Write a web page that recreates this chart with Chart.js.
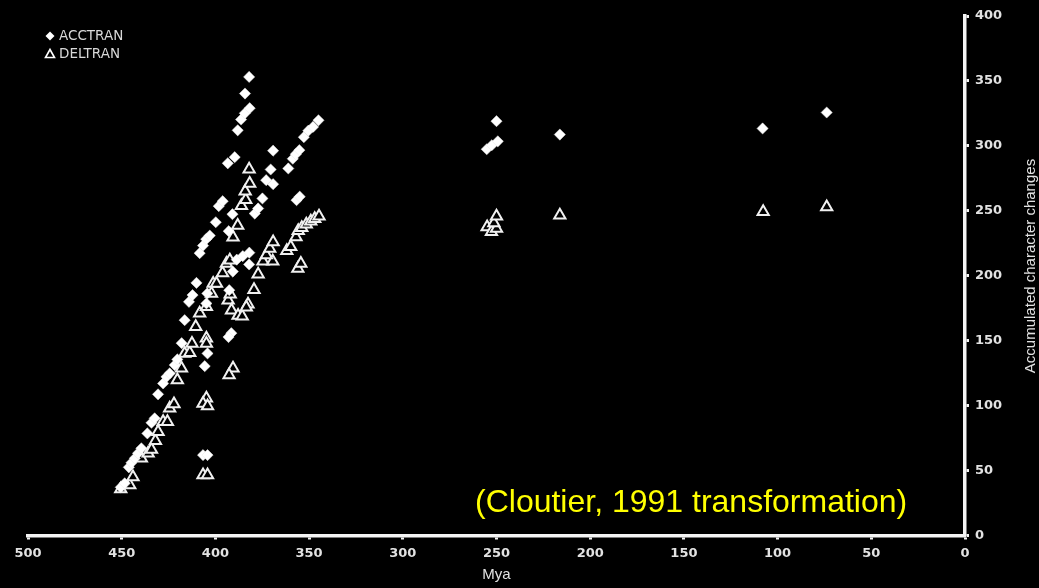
<!DOCTYPE html>
<html>
<head>
<meta charset="utf-8">
<script src="https://cdn.jsdelivr.net/npm/chart.js@4"></script>
<style>
  html, body { margin: 0; padding: 0; background: #000; }
  #wrap { width: 1039px; height: 588px; }
</style>
</head>
<body>
<div id="wrap"><canvas id="chart" width="1039" height="588"></canvas></div>
<script>
// ACCTRAN points (Mya, accumulated changes)
const accMya = [450.5, 448.4, 446.2, 444.8, 443.0, 441.3, 439.5, 436.3, 434.1, 432.4,
  430.6, 427.9, 426.1, 424.4, 421.7, 420.3, 418.0, 416.4, 414.1, 412.2,
  410.1, 408.4, 406.6, 404.9, 403.0, 399.8, 398.2, 396.1, 392.9, 390.9,
  393.4, 389.7, 388.1, 386.3, 384.3, 381.7, 384.2, 382.0, 379.0, 377.2,
  374.9, 372.9, 370.5, 369.2, 369.2, 361.1, 358.7, 357.1, 355.2, 356.7,
  355.0, 352.8, 350.4, 347.9, 345.0, 388.6, 385.4, 381.9, 382.0, 390.7,
  392.6, 404.3, 404.8, 391.5, 393.0, 404.2, 405.7, 406.6, 404.2,
  255.2, 252.5, 249.3, 250.0, 216.2, 108.0, 73.8];
const accVal = [37.1, 40.2, 52.5, 56.0, 59.4, 63.3, 67.1, 78.6, 86.8, 90.2,
  108.7, 117.1, 122.2, 124.8, 131.2, 135.6, 148.1, 165.8, 179.9, 185.1,
  194.5, 217.4, 223.2, 228.2, 230.9, 241.2, 253.6, 257.4, 234.3, 247.4,
  286.6, 291.3, 312.0, 320.3, 325.1, 329.0, 340.3, 353.1, 247.9, 251.8,
  259.5, 273.6, 281.8, 270.5, 296.3, 282.6, 290.1, 293.6, 296.7, 258.2,
  260.9, 306.7, 311.7, 314.6, 319.7, 212.4, 215.1, 217.8, 208.7, 203.2,
  188.9, 186.4, 178.7, 155.8, 152.8, 140.2, 130.4, 61.9, 61.9,
  297.4, 300.5, 303.5, 319.0, 308.7, 313.4, 325.7];

// DELTRAN points
const delMya = [450.5, 445.7, 444.0, 439.5, 435.9, 434.1, 432.0, 430.6, 427.9, 425.6,
  424.4, 422.1, 420.3, 418.1, 416.4, 413.7, 412.5, 410.5, 408.4, 404.8,
  402.1, 401.2, 399.4, 396.2, 394.1, 392.3, 390.6, 388.1, 386.1, 383.8,
  384.1, 381.7, 382.0, 393.2, 392.1, 391.4, 387.9, 385.7, 382.6, 383.5,
  379.4, 377.2, 374.6, 369.4, 372.8, 371.0, 369.2, 404.8, 404.8, 390.6,
  392.7, 404.8, 406.6, 404.2, 406.6, 404.2, 361.9, 359.8, 356.0, 354.4,
  357.0, 355.8, 353.9, 351.5, 349.1, 347.0, 344.7,
  255.0, 252.7, 250.0, 251.4, 250.0, 216.2, 107.7, 73.8];
const delVal = [35.8, 38.9, 45.0, 59.4, 63.3, 66.3, 73.0, 79.9, 87.6, 87.6,
  97.9, 101.2, 119.7, 128.7, 140.2, 140.7, 147.9, 160.7, 171.2, 176.1,
  186.4, 194.1, 194.1, 202.2, 209.5, 212.0, 229.7, 238.6, 253.9, 258.6,
  265.1, 271.0, 282.0, 181.2, 185.8, 173.5, 169.3, 168.9, 178.1, 175.8,
  189.2, 201.2, 211.2, 211.2, 215.9, 221.0, 225.9, 151.8, 147.9, 128.7,
  123.5, 105.6, 101.7, 99.7, 46.6, 46.6, 219.3, 222.4, 205.6, 209.5,
  229.9, 234.7, 237.0, 239.7, 242.0, 243.9, 245.9,
  237.6, 233.8, 236.4, 240.7, 245.9, 246.6, 249.2, 253.0];

const xTicks = [500, 450, 400, 350, 300, 250, 200, 150, 100, 50, 0];
const yTicks = [0, 50, 100, 150, 200, 250, 300, 350, 400];
const noteText = '(Cloutier, 1991 transformation)';
const yTitle = 'Accumulated character changes';

const axisColor = '#f4f4f4';
const labelColor = '#e2e2e2';

function toPoints(xs, ys) {
    return xs.map((x, i) => ({ x: x, y: ys[i] }));
}

// black background, legend, rotated y title, yellow note
const extras = {
    id: 'extras',
    beforeDraw(chart) {
        const ctx = chart.ctx;
        ctx.save();
        ctx.fillStyle = '#000';
        ctx.fillRect(0, 0, chart.width, chart.height);
        ctx.restore();
    },
    afterDraw(chart) {
        const ctx = chart.ctx;
        ctx.save();

        // legend
        ctx.fillStyle = '#fff';
        ctx.beginPath();
        ctx.moveTo(50, 31.5); ctx.lineTo(54.5, 36); ctx.lineTo(50, 40.5); ctx.lineTo(45.5, 36);
        ctx.closePath();
        ctx.fill();
        ctx.strokeStyle = '#fff';
        ctx.lineWidth = 1.6;
        ctx.beginPath();
        ctx.moveTo(50, 49.5); ctx.lineTo(54.5, 57.5); ctx.lineTo(45.5, 57.5);
        ctx.closePath();
        ctx.stroke();
        ctx.fillStyle = '#d8d8d8';
        ctx.font = '13.5px "DejaVu Sans"';
        ctx.textBaseline = 'middle';
        ctx.textAlign = 'left';
        ctx.fillText('ACCTRAN', 59, 36.5);
        ctx.fillText('DELTRAN', 59, 54.5);

        // y title, reading bottom to top
        ctx.translate(1031, 266);
        ctx.rotate(-Math.PI / 2);
        ctx.textAlign = 'center';
        ctx.fillStyle = labelColor;
        ctx.font = '15px "Liberation Sans"';
        ctx.fillText(yTitle, 0, 0);
        ctx.setTransform(1, 0, 0, 1, 0, 0);

        // note
        ctx.fillStyle = '#ffff00';
        ctx.font = '32px "Liberation Sans"';
        ctx.textAlign = 'left';
        ctx.textBaseline = 'middle';
        ctx.fillText(noteText, 475, 503);
        ctx.restore();
    }
};

const tickFont = { family: 'DejaVu Sans', weight: 'bold', size: 13 };

new Chart(document.getElementById('chart'), {
    type: 'scatter',
    data: {
        datasets: [
            {
                label: 'ACCTRAN',
                data: toPoints(accMya, accVal),
                pointStyle: 'rectRot',
                pointRadius: 5.6,
                pointHoverRadius: 5.6,
                backgroundColor: '#ffffff',
                borderColor: '#e8e8e8',
                borderWidth: 0.5
            },
            {
                label: 'DELTRAN',
                data: toPoints(delMya, delVal),
                pointStyle: 'triangle',
                pointRadius: 6.5,
                pointHoverRadius: 6.5,
                backgroundColor: '#000000',
                borderColor: '#f0f0f0',
                borderWidth: 2
            }
        ]
    },
    options: {
        responsive: false,
        animation: false,
        layout: { padding: { left: 28, top: 16, right: 0, bottom: 0 }, autoPadding: false },
        plugins: {
            legend: { display: false },
            tooltip: { enabled: false }
        },
        scales: {
            x: {
                type: 'linear',
                reverse: true,
                min: 0,
                max: 500,
                afterBuildTicks: s => { s.ticks = xTicks.map(v => ({ value: v })); },
                ticks: { color: labelColor, font: tickFont, padding: 6, maxRotation: 0 },
                grid: { drawOnChartArea: false, drawTicks: true, tickLength: 4, tickWidth: 3, tickColor: axisColor },
                border: { display: true, color: axisColor, width: 3.5 },
                title: {
                    display: true,
                    text: 'Mya',
                    color: labelColor,
                    font: { family: 'Liberation Sans', size: 15 },
                    padding: { top: 0, bottom: 4 }
                },
                afterFit: s => { s.height = 52.5; }
            },
            y: {
                position: 'right',
                min: 0,
                max: 400,
                afterBuildTicks: s => { s.ticks = yTicks.map(v => ({ value: v })); },
                ticks: { color: labelColor, font: tickFont, padding: 6 },
                grid: { drawOnChartArea: false, drawTicks: true, tickLength: 4, tickWidth: 3, tickColor: axisColor },
                border: { display: true, color: axisColor, width: 3.5 },
                afterFit: s => { s.width = 74; }
            }
        }
    },
    plugins: [extras]
});
</script>
</body>
</html>
